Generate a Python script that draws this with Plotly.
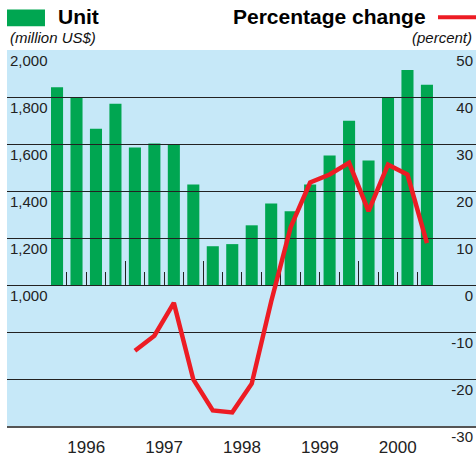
from plotly import graph_objs as go

# квартальные данные 1996-2000
years = ["1996", "1997", "1998", "1999", "2000"]
quarters = [f"{y} Q{q}" for y in years for q in range(1, 5)]
units = [1842, 1798, 1665, 1771, 1585, 1602, 1597, 1428, 1165, 1174,
         1254, 1347, 1314, 1428, 1551, 1699, 1530, 1798, 1915, 1852]
pct_change = [None, None, None, None, -14.0, -10.8, -3.8, -20.1, -26.7, -27.1,
              -21.0, -3.5, 12.3, 21.8, 23.5, 26.0, 15.7, 25.6, 23.5, 8.9]
unit_ticks = [1000, 1200, 1400, 1600, 1800, 2000]
pct_ticks = [-30, -20, -10, 0, 10, 20, 30, 40, 50]
BASE = 1000

GREEN = "#00a651"
RED = "#ed1c24"
BG = "#c6e8f8"
FONT = "Liberation Sans, Arial, sans-serif"

idx = list(range(len(quarters)))
x_range = [-2.57, 21.52]

fig = go.Figure()
fig.add_trace(go.Bar(x=idx, y=[u - BASE for u in units], base=BASE,
                     marker=dict(color=GREEN, line=dict(width=0)), width=0.62,
                     customdata=quarters, hovertemplate='%{customdata}: %{y}<extra></extra>',
                     xaxis="x", yaxis="y", showlegend=False))
fig.add_trace(go.Scatter(x=idx, y=pct_change, mode="lines",
                         line=dict(color=RED, width=4.5),
                         customdata=quarters, hovertemplate='%{customdata}: %{y}%<extra></extra>',
                         xaxis="x2", yaxis="y2", showlegend=False))

# голубой фон поля
fig.add_shape(type="rect", xref="paper", yref="paper", x0=0, x1=1, y0=0, y1=1,
              fillcolor=BG, line=dict(width=0), layer="below")

# легенда сверху
fig.add_shape(type="rect", xref="paper", yref="paper", x0=0, x1=0.081, y0=1.0633, y1=1.108,
              fillcolor=GREEN, line=dict(width=0))
fig.add_shape(type="line", xref="paper", yref="paper", x0=0.919, x1=1.0, y0=1.087, y1=1.087,
              line=dict(color=RED, width=4))
fig.add_annotation(xref="paper", yref="paper", x=0.1045, y=1.0897, text="<b>Unit</b>",
                   showarrow=False, xanchor="left", yanchor="middle",
                   font=dict(size=21, color="black"))
fig.add_annotation(xref="paper", yref="paper", x=0.002, y=1.033, text="<i>(million US$)</i>",
                   showarrow=False, xanchor="left", yanchor="middle",
                   font=dict(size=15, color="#111"))
fig.add_annotation(xref="paper", yref="paper", x=0.8977, y=1.0897, text="<b>Percentage change</b>",
                   showarrow=False, xanchor="right", yanchor="middle",
                   font=dict(size=21, color="black"))
fig.add_annotation(xref="paper", yref="paper", x=0.9957, y=1.033, text="<i>(percent)</i>",
                   showarrow=False, xanchor="right", yanchor="middle",
                   font=dict(size=15, color="#111"))

fig.update_layout(
    width=476, height=457,
    margin=dict(l=7, r=0, t=50, b=28),
    paper_bgcolor="white", plot_bgcolor="rgba(0,0,0,0)",
    font=dict(family=FONT, color="#222"),
    xaxis=dict(domain=[0, 1], range=x_range, anchor="free", position=0.375,
               showticklabels=False, showgrid=False, zeroline=False, showline=False,
               tickmode="array", tickvals=[3.5, 7.5, 11.5, 15.5],
               ticks="inside", ticklen=24, tickwidth=1.2, tickcolor="#222",
               minor=dict(tickmode="array", tickvals=[i + 0.5 for i in range(19)],
                          ticks="inside", ticklen=13, tickwidth=1.2, tickcolor="#222")),
    yaxis=dict(domain=[0, 1], range=[400, 2000], anchor="x",
               tickmode="array", tickvals=unit_ticks, ticktext=[f"{v:,}" for v in unit_ticks],
               showgrid=False, zeroline=False, ticks="",
               ticklabelposition="inside bottom", ticklabeloverflow="allow",
               tickfont=dict(size=15, color="#222")),
    xaxis2=dict(domain=[0, 1], range=x_range, anchor="y2",
                tickmode="array", tickvals=[4 * i + 1.5 for i in range(len(years))], ticktext=years,
                ticks="", showgrid=False, zeroline=False,
                showline=True, linecolor="#555", linewidth=1.5,
                ticklabelstandoff=5, tickfont=dict(size=17, color="#222")),
    yaxis2=dict(domain=[0, 1], range=[-30, 50], anchor="x2", side="right",
                tickmode="array", tickvals=pct_ticks, ticktext=[str(v) for v in pct_ticks],
                showgrid=True, gridcolor="#222", gridwidth=1.3, zeroline=False, ticks="",
                ticklabelposition="inside bottom", ticklabeloverflow="allow",
                tickfont=dict(size=15, color="#222")),
)

# убираем стандартный отступ body, чтобы картинка легла в окно 476x457
fig.write_html("out.html", config={"displayModeBar": False},
               post_script="document.body.style.margin='0';document.body.style.overflow='hidden';")
